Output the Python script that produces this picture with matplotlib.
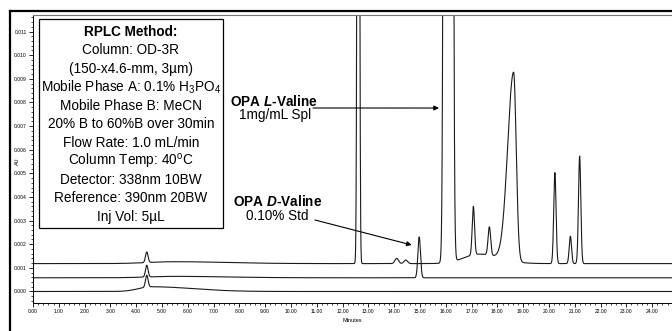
import numpy as np
import matplotlib
matplotlib.use("Agg")
import matplotlib.pyplot as plt
from matplotlib.ticker import MultipleLocator, FormatStrFormatter
from matplotlib.lines import Line2D
from matplotlib.patches import Rectangle

plt.rcParams['font.family'] = ['Liberation Sans', 'DejaVu Sans']
plt.rcParams['mathtext.fontset'] = 'custom'
plt.rcParams['mathtext.rm'] = 'Liberation Sans'
plt.rcParams['mathtext.it'] = 'Liberation Sans:italic'
plt.rcParams['mathtext.bf'] = 'Liberation Sans:bold'
plt.rcParams['mathtext.bfit'] = 'Liberation Sans:italic:bold'

# ------------------------------------------------------------------
# Peak tables (minutes, AU above baseline,
# left / right peak width)
# ------------------------------------------------------------------
# top trace: OPA L-Valine 1 mg/mL sample
spl_base = 0.00118
spl_rt = [4.41, 5.5, 12.61, 14.1, 14.45, 16.1, 17.3, 17.07, 17.69, 18.63, 20.23, 20.83, 21.19]
spl_h  = [0.00045, 0.00008, 0.06, 0.00022, 0.00015, 0.8, 0.0004, 0.00205, 0.0012, 0.0080, 0.00385, 0.00116, 0.00455]
spl_sl = [0.05, 1.0, 0.035, 0.07, 0.07, 0.075, 0.6, 0.045, 0.05, 0.23, 0.045, 0.045, 0.045]
spl_sr = [0.05, 2.0, 0.035, 0.07, 0.07, 0.075, 0.8, 0.045, 0.05, 0.10, 0.045, 0.045, 0.045]

# middle trace: OPA D-Valine 0.10% standard
std_base = 0.00058
std_rt = [4.41, 5.5, 14.97]
std_h  = [0.0005, 0.00006, 0.00173]
std_sl = [0.05, 1.0, 0.05]
std_sr = [0.05, 2.0, 0.05]

# bottom trace: blank
blk_base = 0.0
blk_rt = [4.41, 4.6]
blk_h  = [0.0005, 0.0002]
blk_sl = [0.05, 0.5]
blk_sr = [0.05, 1.6]

method_lines = [
    r"Column: OD-3R",
    r"(150-x4.6-mm, 3µm)",
    r"Mobile Phase A: 0.1% H$_3$PO$_4$",
    r"Mobile Phase B: MeCN",
    r"20% B to 60%B over 30min",
    r"Flow Rate: 1.0 mL/min",
    r"Column Temp: 40$^{\mathrm{o}}$C",
    r"Detector: 338nm 10BW",
    r"Reference: 390nm 20BW",
    r"Inj Vol: 5µL",
]

W, H = 672, 331
X_MAX = 24.77
FS = 9.8


def px(x, y):
    return (x / W, 1 - y / H)


def trace(t, base, rt, h, sl, sr):
    y = np.full_like(t, base)
    for r, a, s1, s2 in zip(rt, h, sl, sr):
        s = np.where(t < r, s1, s2)
        y += a * np.exp(-0.5 * ((t - r) / s) ** 2)
    return y


t = np.linspace(0, X_MAX, 8000)

fig = plt.figure(figsize=(W / 100, H / 100), dpi=100)
ax = fig.add_axes([33 / W, 1 - 303 / H, (W - 33) / W, (303 - 14.5) / H])

for base, rt, h, sl, sr in [(blk_base, blk_rt, blk_h, blk_sl, blk_sr),
                            (std_base, std_rt, std_h, std_sl, std_sr),
                            (spl_base, spl_rt, spl_h, spl_sl, spl_sr)]:
    ax.plot(t, trace(t, base, rt, h, sl, sr), color='#1a1a1a', lw=0.8)

ax.set_xlim(0, X_MAX)
ax.set_ylim(-0.000487, 0.01172)
ax.xaxis.set_major_locator(MultipleLocator(1))
ax.xaxis.set_minor_locator(MultipleLocator(0.2))
ax.xaxis.set_major_formatter(FormatStrFormatter('%.2f'))
ax.yaxis.set_major_locator(MultipleLocator(0.001))
ax.yaxis.set_minor_locator(MultipleLocator(0.0002))
ax.yaxis.set_major_formatter(FormatStrFormatter('%.3f'))
ax.tick_params(which='major', direction='out', length=3, width=0.6, labelsize=3.6, pad=1.5)
ax.tick_params(which='minor', direction='out', length=1.6, width=0.5)
ax.spines['right'].set_visible(False)
ax.spines['top'].set_color('#777777')
ax.spines['top'].set_linewidth(0.8)
ax.spines['left'].set_linewidth(0.7)
ax.spines['bottom'].set_linewidth(0.7)
ax.set_xlabel('Minutes', fontsize=4, labelpad=3)
ax.set_ylabel('AU', fontsize=4)
ax.yaxis.set_label_coords((20 - 33) / (W - 33), (303 - 161) / (303 - 14.5))

# outer frame (left and top edges visible)
fig.add_artist(Line2D([9.5 / W, 9.5 / W], [0, 1 - 11 / H], color='k', lw=1.6))
fig.add_artist(Line2D([9.5 / W, 1], [1 - 11 / H, 1 - 11 / H], color='k', lw=1.6))

# method box
x0, y0 = px(39.3, 228)
x1, y1 = px(222.7, 19.3)
fig.add_artist(Rectangle((x0, y0), x1 - x0, y1 - y0, transform=fig.transFigure,
                         fill=False, edgecolor='k', lw=0.9))
fig.text(*px(131, 31.7), 'RPLC Method:', ha='center', va='center',
         fontsize=FS, fontweight='bold')
for i, line in enumerate(method_lines):
    fig.text(*px(131, 31.7 + 18.5 * (i + 1)), line, ha='center', va='center',
             fontsize=FS)

# peak labels
fig.text(*px(273.5, 101), r'OPA $\mathbfit{L}$-Valine', ha='center', va='center',
         fontsize=FS, fontweight='bold')
fig.text(*px(275.5, 115.5), '1mg/mL Spl', ha='center', va='center', fontsize=FS)
fig.text(*px(278, 201.5), r'OPA $\mathbfit{D}$-Valine', ha='center', va='center',
         fontsize=FS, fontweight='bold')
fig.text(*px(277.5, 215.5), '0.10% Std', ha='center', va='center', fontsize=FS)

arrow = dict(arrowstyle='-|>', color='k', lw=0.8, mutation_scale=7,
             shrinkA=0, shrinkB=0)
ax.annotate('', xy=((439 - 33) / 25.8, (291.5 - 108) / 23.64e3),
            xytext=px(313, 108), textcoords='figure fraction', arrowprops=arrow)
ax.annotate('', xy=((411.7 - 33) / 25.8, (291.5 - 245) / 23.64e3),
            xytext=px(315, 220), textcoords='figure fraction', arrowprops=arrow)

fig.savefig('out.png', dpi=100)
